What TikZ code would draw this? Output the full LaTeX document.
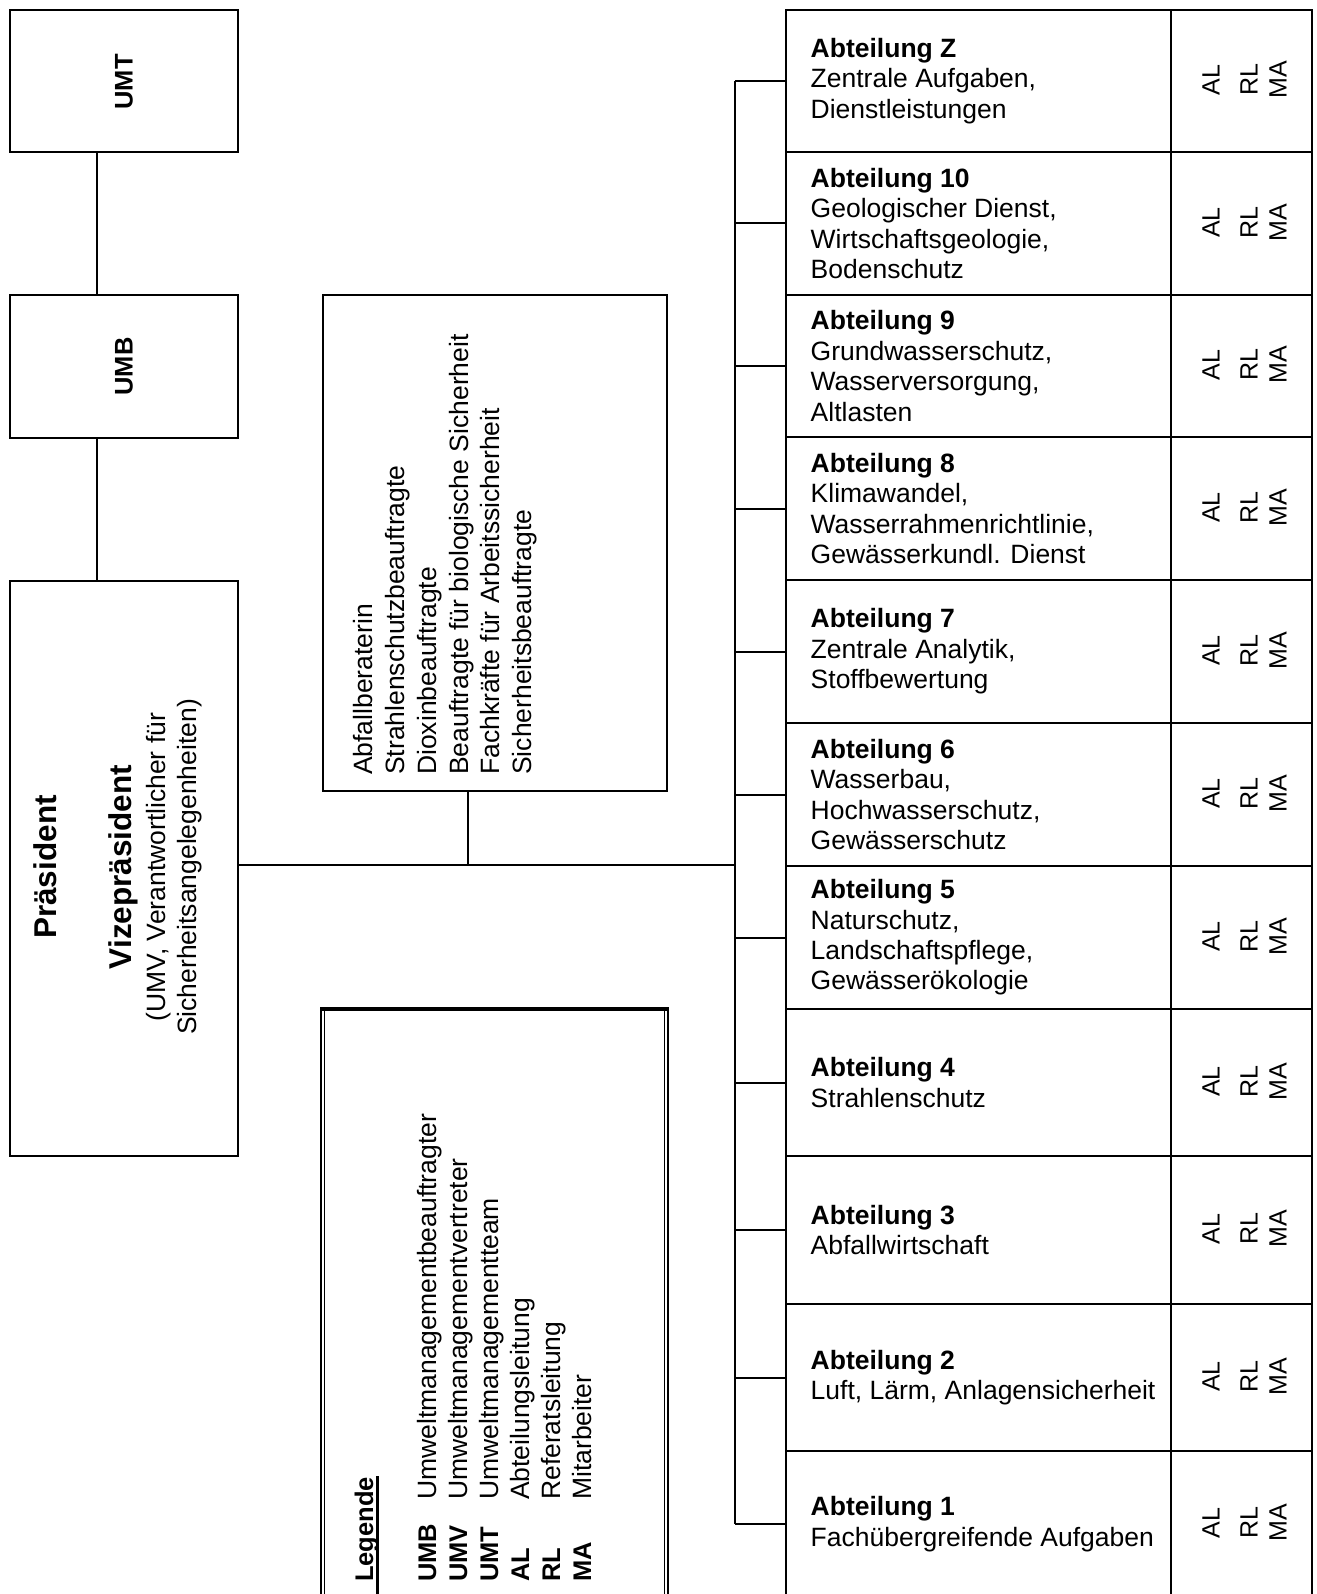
\documentclass[tikz,border=0pt]{standalone}
\usepackage{fontspec}
\setmainfont{Liberation Sans}
\newcommand\deptrow[5]{%
  \node[box, anchor=north west, minimum width=385pt, minimum height={(#3-#2)*1pt}] (d#1) at (785,#2) {};
  \node[box, anchor=north west, minimum width=141pt, minimum height={(#3-#2)*1pt}] (r#1) at (1170,#2) {};
  \node[fR, anchor=west, align=left, inner sep=0pt] (t#1) at ([xshift=25.5pt]d#1.west) {\textbf{#4}\\#5};
  \node[fS, rotate=90, anchor=base] (al#1) at ([xshift=49.5pt,yshift=1pt]r#1.west) {AL};
  \node[fS, rotate=90, anchor=base] (rl#1) at ([xshift=87.5pt,yshift=1pt]r#1.west) {RL};
  \node[fS, rotate=90, anchor=base] (ma#1) at ([xshift=116.5pt,yshift=1pt]r#1.west) {MA};
  \draw[ln] (bus |- d#1.west) -- (d#1.west);
}
\begin{document}
\begin{tikzpicture}[x=1pt,y=-1pt,
  ln/.style={line width=2pt},
  box/.style={draw, line width=2pt, inner sep=0pt},
  fR/.style={font=\fontsize{26.5}{30.4}\selectfont, inner sep=0pt},
  fS/.style={font=\fontsize{25}{29}\selectfont, inner sep=0pt},
  fP/.style={font=\fontsize{31.5}{36}\selectfont\bfseries, inner sep=0pt},
  fU/.style={font=\fontsize{25.5}{30}\selectfont\bfseries, inner sep=0pt},
  fL/.style={font=\fontsize{25.5}{30}\selectfont\bfseries, inner sep=0pt},
  thin/.style={line width=1.3pt}
]
\useasboundingbox (0,0) rectangle (1316,1594);
\clip (0,0) rectangle (1316,1594);

% left column
\node[box, anchor=north west, minimum width=228pt, minimum height=142pt] (umt) at (9,9) {};
\node[fU, rotate=90] (umtt) at ([yshift=-1pt]umt.center) {UMT};
\node[box, anchor=north west, minimum width=228pt, minimum height=143pt] (umb) at (9,294) {};
\node[fU, rotate=90] (umbt) at (umb.center) {UMB};
\node[box, anchor=north west, minimum width=228pt, minimum height=575pt] (pres) at (9,580) {};
\node[fP, rotate=90, anchor=base] (prest) at (56,867) {Präsident};
\node[fP, rotate=90, anchor=base] (vizet) at (131,867) {Vizepräsident};
\node[fR, rotate=90, anchor=base] (umvt) at (165,867) {(UMV, Verantwortlicher für};
\node[fR, rotate=90, anchor=base] (sicht) at (196,867) {Sicherheitsangelegenheiten)};

\draw[ln] ([xshift=-27pt]umt.south) -- ([xshift=-27pt]umb.north);
\draw[ln] ([xshift=-27pt]umb.south) -- ([xshift=-27pt]pres.north);

% main line and bus
\coordinate (bus) at (735,865);
\draw[ln] (pres.east |- bus) -- (bus);

% Beauftragte box
\node[box, anchor=north west, minimum width=344pt, minimum height=496pt] (beauf) at (322,294) {};
\draw[ln] ([xshift=-27pt]beauf.south) -- ([xshift=-27pt]beauf.south |- bus);
\node[fR, rotate=90, anchor=base west] (b1) at (372.7,775) {Abfallberaterin};
\node[fR, rotate=90, anchor=base west] (b2) at (404.5,775) {Strahlenschutzbeauftragte};
\node[fR, rotate=90, anchor=base west] (b3) at (436.3,775) {Dioxinbeauftragte};
\node[fR, rotate=90, anchor=base west] (b4) at (468,775) {Beauftragte für biologische Sicherheit};
\node[fR, rotate=90, anchor=base west] (b5) at (499.8,775) {Fachkräfte für Arbeitssicherheit};
\node[fR, rotate=90, anchor=base west] (b6) at (531.6,775) {Sicherheitsbeauftragte};

% departments
\deptrow{Z}{9}{151}{Abteilung Z}{Zentrale Aufgaben,\\Dienstleistungen}
\deptrow{10}{151}{294}{Abteilung 10}{Geologischer Dienst,\\Wirtschaftsgeologie,\\Bodenschutz}
\deptrow{9}{294}{436}{Abteilung 9}{Grundwasserschutz,\\Wasserversorgung,\\Altlasten}
\deptrow{8}{436}{579}{Abteilung 8}{Klimawandel,\\Wasserrahmenrichtlinie,\\Gewässerkundl. Dienst}
\deptrow{7}{579}{722}{Abteilung 7}{Zentrale Analytik,\\Stoffbewertung}
\deptrow{6}{722}{865}{Abteilung 6}{Wasserbau,\\Hochwasserschutz,\\Gewässerschutz}
\deptrow{5}{865}{1008}{Abteilung 5}{Naturschutz,\\Landschaftspflege,\\Gewässerökologie}
\deptrow{4}{1008}{1155}{Abteilung 4}{Strahlenschutz}
\deptrow{3}{1155}{1303}{Abteilung 3}{Abfallwirtschaft}
\deptrow{2}{1303}{1450}{Abteilung 2}{Luft, Lärm, Anlagensicherheit}
\deptrow{1}{1450}{1596}{Abteilung 1}{Fachübergreifende Aufgaben}
\draw[ln] (bus |- dZ.west) -- (bus |- d1.west);

% legend
\draw[thin] (321,1600) -- (321,1008.7) -- (668,1008.7) -- (668,1600);
\draw[thin] (324.5,1600) -- (324.5,1010.5) -- (664.5,1010.5) -- (664.5,1600);
\draw[line width=4pt] (320.35,1008.7) -- (668.65,1008.7);
\node[fL, rotate=90, anchor=base west] (leg) at (373,1582) {Legende};
\draw[line width=2.5pt] (377.5,1476) -- (377.5,1600);
\node[fL, rotate=90, anchor=base west] (a1) at (436,1582) {UMB};
\node[fL, rotate=90, anchor=base west] (a2) at (467,1582) {UMV};
\node[fL, rotate=90, anchor=base west] (a3) at (498,1582) {UMT};
\node[fL, rotate=90, anchor=base west] (a4) at (529,1582) {AL};
\node[fL, rotate=90, anchor=base west] (a5) at (560,1582) {RL};
\node[fL, rotate=90, anchor=base west] (a6) at (591,1582) {MA};
\node[fR, rotate=90, anchor=base west] (e1) at (436,1500) {Umweltmanagementbeauftragter};
\node[fR, rotate=90, anchor=base west] (e2) at (467,1500) {Umweltmanagementvertreter};
\node[fR, rotate=90, anchor=base west] (e3) at (498,1500) {Umweltmanagementteam};
\node[fR, rotate=90, anchor=base west] (e4) at (529,1500) {Abteilungsleitung};
\node[fR, rotate=90, anchor=base west] (e5) at (560,1500) {Referatsleitung};
\node[fR, rotate=90, anchor=base west] (e6) at (591,1500) {Mitarbeiter};
\end{tikzpicture}
\end{document}
